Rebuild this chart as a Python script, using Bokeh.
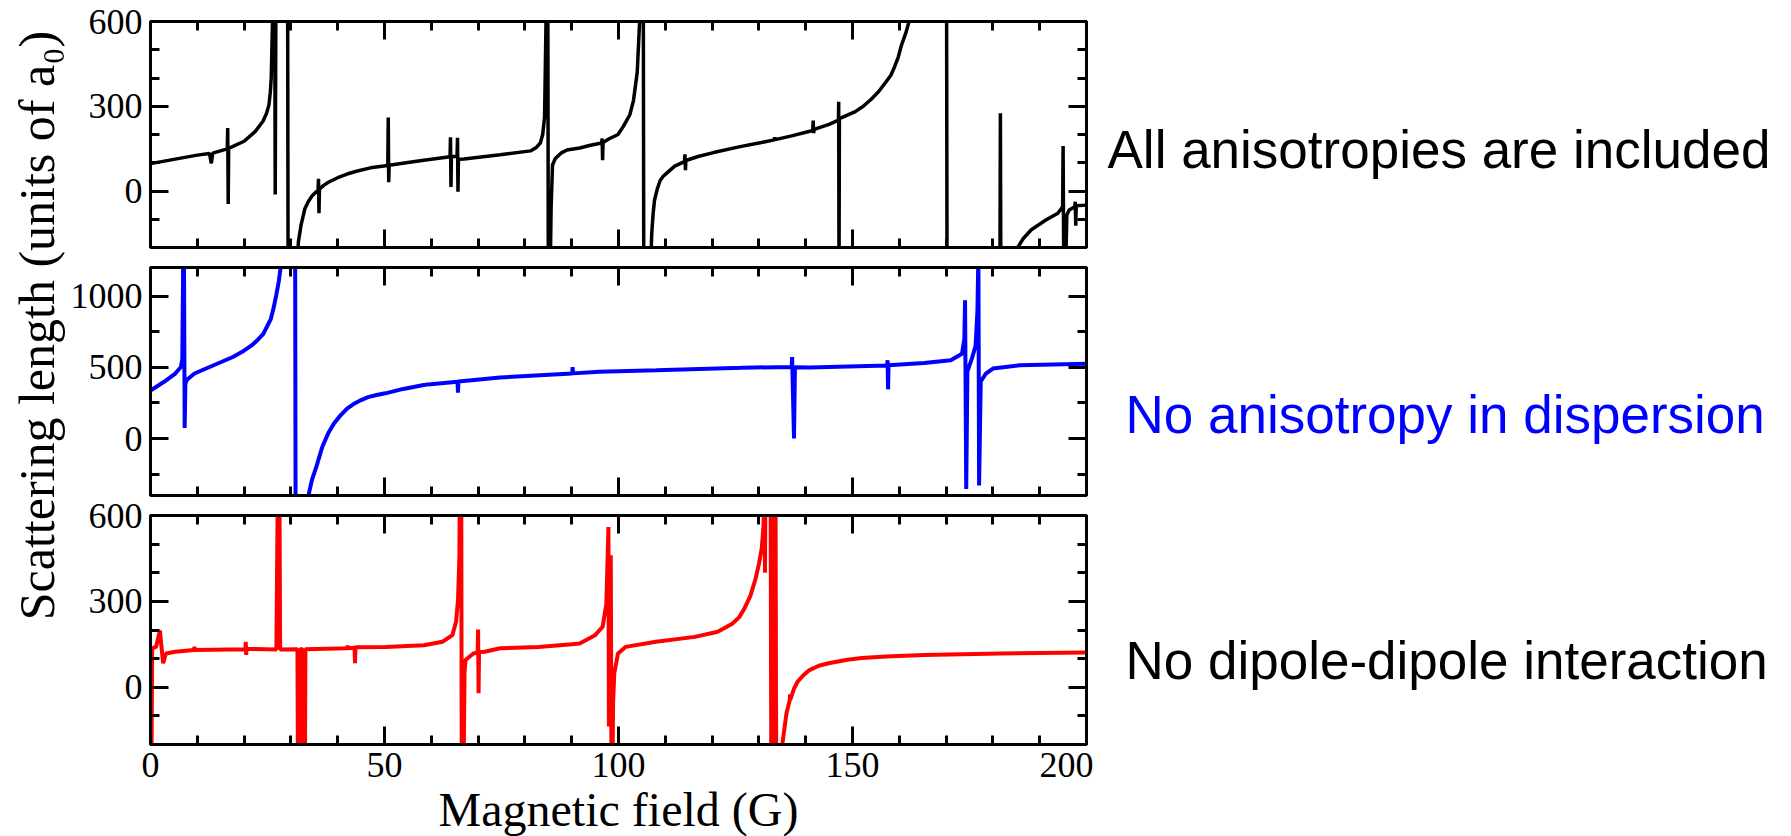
import math
from bokeh.plotting import figure
from bokeh.models import Range1d, FixedTicker, LinearAxis, Label
from bokeh.layouts import row, column
from bokeh.embed import file_html
from bokeh.resources import INLINE

# ---------------- data ----------------
# Panel 1: all anisotropies included (black)
field_all = [0, 5, 10, 12.6, 13.0, 13.3, 16.4, 16.5, 16.6, 16.7, 20, 22.4, 24.0, 24.8, 25.3,
             25.6, 25.8, 26.2, 26.55, 26.65, 26.8, 29.3, 29.4, 31.3, 31.6, 32.2, 33.0, 33.7,
             34.5, 35.2, 35.8, 35.9, 36.0, 36.1, 37.0, 38.0, 40.0, 42.0, 44.0, 47.0, 50.7,
             50.8, 50.9, 51.0, 55.0, 58.4, 64.0, 64.1, 64.2, 64.3, 65.5, 65.6, 65.7, 65.8,
             67.0, 74.7, 81.2, 82.5, 83.3, 83.8, 84.2, 84.6, 84.9, 85.0, 85.4, 85.6, 85.9,
             86.5, 87.7, 89.0, 91.7, 94.0, 96.4, 96.5, 96.6, 96.7, 98.0, 99.9, 101.0, 102.4,
             103.2, 104.0, 104.8, 105.3, 105.4, 106.8, 107.1, 107.4, 107.7, 108.3, 108.9,
             109.6, 110.5, 112.0, 114.1, 114.2, 114.3, 114.4, 117.0, 120.3, 126.0, 130.0,
             133.3, 133.4, 133.5, 137.0, 141.5, 141.6, 141.7, 141.8, 145.0, 147.0, 147.05,
             147.12, 147.2, 150.6, 152.3, 154.0, 155.6, 157.1, 158.2, 159.0, 159.8, 160.4,
             161.5, 162.4, 170.1, 170.2, 181.5, 181.6, 181.7, 184.9, 186.5, 188.2, 191.4,
             193.9, 194.9, 195.0, 195.15, 195.5, 195.8, 196.3, 197.5, 197.6, 197.7, 197.8,
             200.0]
scat_all = [97, 112, 127, 133, 98, 134, 149, 223, -46, 151, 176, 211, 246, 275, 304,
            350, 400, 700, 700, -12, 700, 700, -300, -300, -180, -118, -62, -38,
            -18, -6, 2, 43, -79, 6, 20, 31, 47, 60, 70, 82, 90,
            260, 31, 91, 101, 109, 121, 190, 14, 121, 123, 188, -3, 112,
            113, 128, 142, 155, 170, 200, 260, 700, 700, -300, -300, -60, 92,
            115, 134, 145, 152, 162, 170, 186, 109, 172, 185, 200, 228, 269,
            320, 420, 700, 700, -300, -300, -150, -80, -32, 8, 37,
            53, 66, 88, 104, 130, 74, 108, 122, 136, 157, 170,
            181, 190, 182, 195, 214, 249, 205, 218, 236, 251, 316,
            -300, 256, 281, 300, 325, 352, 385, 410, 440, 475, 513,
            565, 620, 700, -300, -300, 275, -300, -210, -168, -137, -102,
            -79, -56, 159, -300, -300, -85, -67, -56, -38, -123, -52,
            -50]

# Panel 2: no anisotropy in dispersion (blue)
field_nodisp = [0, 2.9, 5.3, 6.5, 6.8, 7.0, 7.15, 7.3, 7.45, 7.8, 9.4, 13.5, 17.6, 19.6, 21.6,
                23.0, 24.1, 25.7, 26.3, 26.9, 27.4, 27.8, 28.6, 30.9, 31.0, 33.5, 33.9, 34.5,
                35.5, 36.7, 38.0, 39.2, 40.4, 42.0, 43.7, 45.0, 46.5, 48.3, 50.2, 54.0, 58.4,
                59.1, 59.2, 59.3, 65.6, 65.7, 65.8, 74.7, 90.1, 90.2, 90.3, 95.9, 108.1,
                126.4, 126.5, 126.6, 137.0, 137.1, 137.5, 137.7, 140.8, 157.4, 157.5, 157.6,
                157.7, 165.3, 171.0, 173.4, 173.9, 174.05, 174.3, 174.55, 175.5, 176.3, 176.7,
                176.9, 177.05, 177.4, 178.5, 180.0, 185.7, 200.0]
scat_nodisp = [336, 398, 456, 502, 560, 1300, 1300, 74, 385, 412, 456, 514, 572, 608, 653,
               695, 734, 838, 915, 1012, 1100, 1200, 1500, 1500, -500, -500, -377, -290,
               -192, -60, 39, 105, 155, 210, 248, 270, 290, 305, 317, 348, 375,
               378, 388, 379, 398, 322, 400, 428, 456, 500, 457, 468, 479,
               497, 504, 497, 502, 572, 0, 500, 498, 512, 549, 345,
               514, 530, 549, 595, 700, 970, -354, 470, 560, 650, 900,
               1300, -330, 400, 456, 491, 514, 525]

# Panel 3: no dipole-dipole interaction (red)
field_nodip = [0.2, 0.35, 1.2, 2.0, 2.7, 3.3, 5.3, 9.3, 9.4, 9.5, 20.3, 20.35, 20.45, 20.5,
               26.9, 27.2, 27.55, 27.7, 31.4, 31.5, 31.85, 31.95, 32.55, 32.65, 33.0, 33.1,
               42.0, 42.1, 42.2, 43.6, 43.7, 43.8, 50.2, 58.4, 62.4, 64.5, 65.3, 65.7, 66.0,
               66.1, 66.4, 66.5, 66.9, 67.1, 67.3, 69.0, 69.9, 70.0, 70.1, 70.2, 71.4, 74.7,
               82.9, 90.0, 91.7, 95.0, 96.6, 97.4, 97.85, 97.95, 98.35, 98.5, 98.7, 98.85,
               99.1, 99.9, 101.5, 108.0, 116.3, 121.2, 124.4, 125.8, 126.9, 128.2, 129.3,
               130.0, 130.6, 131.0, 131.15, 131.2, 131.3, 131.4, 132.5, 132.65, 133.0, 133.2,
               133.55, 133.7, 134.8, 135.0, 135.9, 136.6, 136.65, 136.7, 137.5, 138.3, 139.5,
               140.8, 142.8, 144.9, 148.9, 152.0, 157.1, 165.3, 181.6, 200.0]
scat_nodip = [-300, 136, 141, 198, 84, 118, 124, 130, 141, 130, 133, 159, 113, 134,
              132, 700, 700, 132, 133, -300, -300, 133, 133, -300, -300, 133,
              136, 146, 136, 138, 84, 140, 141, 147, 159, 182, 230, 304, 450,
              700, 700, -300, -300, 50, 95, 118, 122, 202, -21, 122, 124, 136,
              141, 150, 153, 182, 211, 290, 560, -137, 461, -300, -300, -50,
              49, 118, 141, 159, 176, 194, 223, 245, 275, 320, 380,
              430, 484, 565, 700, 700, 400, 700, 700, -300, 700, -300,
              700, -300, -300, -200, -90, -45, -25, -44, -5, 20, 42,
              60, 75, 84, 96, 102, 107, 113, 118, 121]

# axes / ticks
x_major = [0, 50, 100, 150, 200]
x_minor = [0, 10, 20, 30, 40, 50, 60, 70, 80, 90, 100, 110, 120, 130, 140, 150, 160, 170, 180, 190, 200]
y_major_a = [0, 300, 600]
y_minor_a = [-200, -100, 0, 100, 200, 300, 400, 500, 600]
y_major_b = [0, 500, 1000]
y_minor_b = [-250, 250, 750]
y_range_a = (-200, 600)
y_range_b = (-400, 1200)

x_title = "Magnetic field (G)"
y_title = "Scattering length (units of a\u2080)"
panel_labels = ["All anisotropies are included", "No anisotropy in dispersion", "No dipole-dipole interaction"]
label_colors = ["black", "blue", "black"]
line_colors = ["black", "blue", "red"]

SERIF = "Liberation Serif"
SANS = "Liberation Sans"

W_TITLE = 67
B_LEFT = 80
FRAME_W = 936
B_RIGHT = 10
W_PANEL = B_LEFT + FRAME_W + B_RIGHT
W_TEXT = 1791 - W_TITLE - W_PANEL


def style_axis(ax, labelled):
    ax.axis_line_width = 3
    ax.axis_line_color = "black"
    ax.major_tick_in = 18
    ax.major_tick_out = 0
    ax.minor_tick_in = 9
    ax.minor_tick_out = 0
    ax.major_tick_line_width = 3
    ax.minor_tick_line_width = 3
    ax.major_tick_line_color = "black"
    ax.minor_tick_line_color = "black"
    if labelled:
        ax.major_label_text_font = SERIF
        ax.major_label_text_font_size = "36px"
        ax.major_label_text_color = "black"
    else:
        # mirror axis: ticks only, labels not drawn
        ax.major_label_text_color = None
        ax.major_label_text_font_size = "1px"
        ax.major_label_standoff = 0


def make_panel(xs, ys, color, lw, yr, ymaj, ymin, frame_h, bt, bb, bottom_labels):
    p = figure(frame_width=FRAME_W, frame_height=frame_h,
               x_range=Range1d(0, 200), y_range=Range1d(*yr),
               output_backend="svg", toolbar_location=None, tools="",
               min_border_left=B_LEFT, min_border_right=B_RIGHT,
               min_border_top=bt, min_border_bottom=bb,
               x_axis_location=None, y_axis_location=None,
               background_fill_color="white", border_fill_color="white",
               outline_line_color="black", outline_line_width=3)
    p.grid.visible = False
    for loc in ("below", "above"):
        ax = LinearAxis(ticker=FixedTicker(ticks=x_major, minor_ticks=x_minor))
        style_axis(ax, loc == "below" and bottom_labels)
        if loc == "below" and bottom_labels:
            ax.major_label_standoff = 8
            ax.axis_label = x_title
            ax.axis_label_text_font = SERIF
            ax.axis_label_text_font_size = "48px"
            ax.axis_label_text_font_style = "normal"
            ax.axis_label_text_color = "black"
            ax.axis_label_standoff = 3
        p.add_layout(ax, loc)
    for loc in ("left", "right"):
        ax = LinearAxis(ticker=FixedTicker(ticks=ymaj, minor_ticks=ymin))
        style_axis(ax, loc == "left")
        if loc == "left":
            ax.major_label_standoff = 8
        p.add_layout(ax, loc)
    p.line(xs, ys, line_color=color, line_width=lw, line_join="bevel")
    return p


p1 = make_panel(field_all, scat_all, line_colors[0], 3.5, y_range_a, y_major_a, y_minor_a,
                226, 21, 10, False)
p2 = make_panel(field_nodisp, scat_nodisp, line_colors[1], 4, y_range_b, y_major_b, y_minor_b,
                228, 10, 2, False)
p3 = make_panel(field_nodip, scat_nodip, line_colors[2], 4, y_range_a, y_major_a, y_minor_a,
                229, 18, 90, True)

# left strip: y-axis title spanning all panels
t = figure(width=W_TITLE, height=836, x_range=Range1d(0, W_TITLE), y_range=Range1d(0, 836),
           output_backend="svg", toolbar_location=None, tools="", min_border=0,
           x_axis_location=None, y_axis_location=None, outline_line_color=None,
           background_fill_color="white", border_fill_color="white")
t.grid.visible = False
t.add_layout(Label(x=36, y=511, x_units="screen", y_units="screen", angle=math.pi / 2,
                   text=y_title, text_font=SERIF, text_font_size="50px", text_color="black",
                   text_align="center", text_baseline="middle"))

# right strip: panel descriptions
r = figure(width=W_TEXT, height=836, x_range=Range1d(0, W_TEXT), y_range=Range1d(0, 836),
           output_backend="svg", toolbar_location=None, tools="", min_border=0,
           x_axis_location=None, y_axis_location=None, outline_line_color=None,
           background_fill_color="white", border_fill_color="white")
r.grid.visible = False
lab_x = [1104 - (W_TITLE + W_PANEL), 1122 - (W_TITLE + W_PANEL), 1122 - (W_TITLE + W_PANEL)]
lab_y = [836 - 149, 836 - 414, 836 - 660]
for txt, col, lx, ly in zip(panel_labels, label_colors, lab_x, lab_y):
    r.add_layout(Label(x=lx, y=ly, x_units="screen", y_units="screen", text=txt,
                       text_color=col, text_font=SANS, text_font_size="53px",
                       text_align="left", text_baseline="alphabetic"))

layout = row(t, column(p1, p2, p3, spacing=0), r, spacing=0)
open("out.html", "w").write(file_html(layout, INLINE))
